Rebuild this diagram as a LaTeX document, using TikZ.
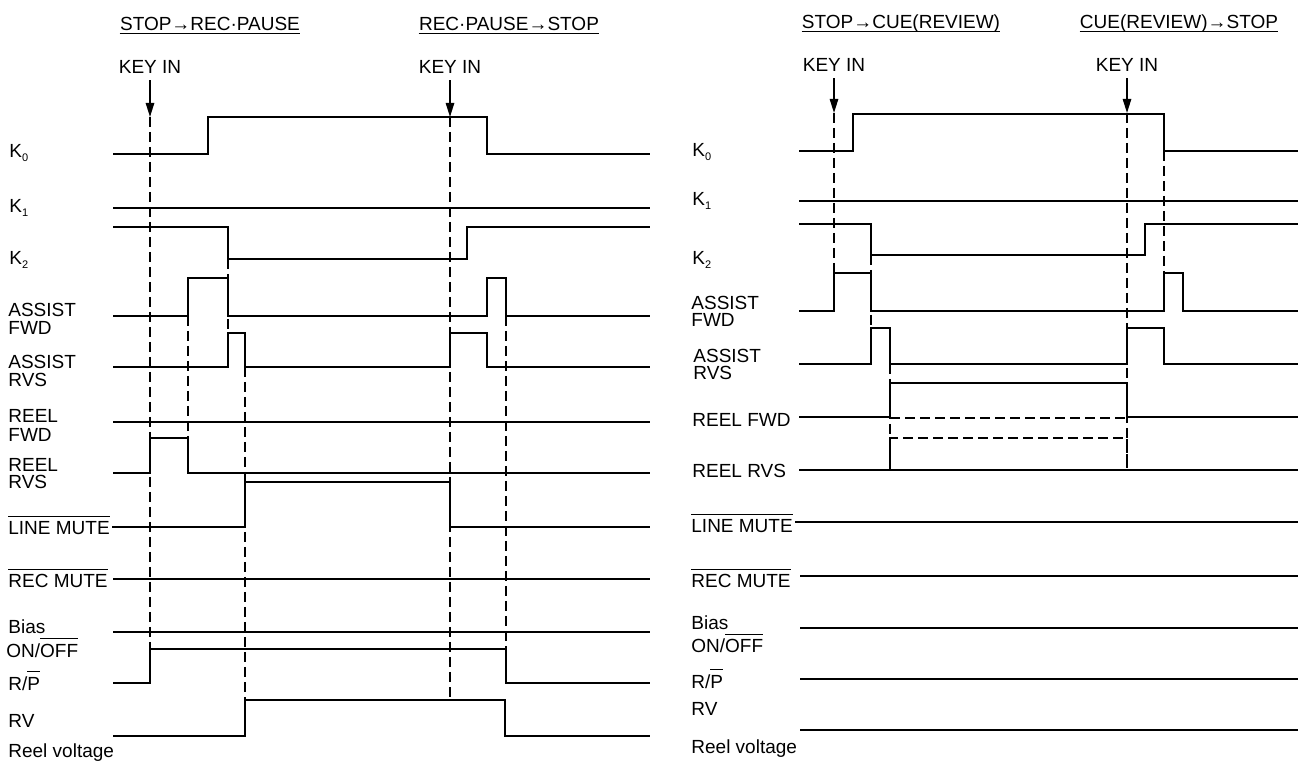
\documentclass[tikz,border=0pt]{standalone}
\usepackage{fontspec}
\setmainfont{Liberation Sans}
\usetikzlibrary{arrows.meta}

\newcommand{\ovl}[1]{$\overline{\hbox{\vrule width0pt height0.85em #1}}$}
\newcommand{\ksub}[1]{K\raisebox{-0.3ex}{\fontsize{5.5}{6}\selectfont #1}}

\tikzset{
  sig/.style={line width=1.3pt},
  guide/.style={line width=0.65pt, dash pattern=on 5pt off 2.5pt},
  lbl/.style={anchor=base west, inner sep=0pt, font=\fontsize{9.5}{11}\selectfont},
  ttl/.style={anchor=base, inner sep=0pt, font=\fontsize{9.5}{11}\selectfont},
  keyarr/.style={-{Triangle[length=7pt,width=4.2pt]}, line width=0.75pt}
}

\begin{document}
\begin{tikzpicture}[x=0.5pt, y=-0.5pt]
    \useasboundingbox (0,0) rectangle (1300,763);

    % Left panel: titles and key-in marks
    \node[ttl] (tl1) at (210,30.5) {STOP→REC·PAUSE};
    \draw[line width=0.6pt] ([yshift=-1.5pt]tl1.base west) -- ([yshift=-1.5pt]tl1.base east);
    \node[ttl] (tl2) at (509,30.5) {REC·PAUSE→STOP};
    \draw[line width=0.6pt] ([yshift=-1.5pt]tl2.base west) -- ([yshift=-1.5pt]tl2.base east);

    \node[ttl] (ki1) at (150,74) {KEY IN};
    \coordinate (ki1e) at (150,117);
    \draw[keyarr] ([yshift=-3pt]ki1.south) -- (ki1e);
    \node[ttl] (ki2) at (450,74) {KEY IN};
    \coordinate (ki2e) at (450,117);
    \draw[keyarr] ([yshift=-3pt]ki2.south) -- (ki2e);

    % Left panel: signal names
    \node[lbl] (lk0) at (9,158) {\ksub{0}};
    \node[lbl] (lk1) at (9,213) {\ksub{1}};
    \node[lbl] (lk2) at (9,265) {\ksub{2}};
    \node[lbl] (lasf) at (8,317) {ASSIST};
    \node[lbl] (lasfb) at (8,335) {FWD};
    \node[lbl] (lasr) at (8,369) {ASSIST};
    \node[lbl] (lasrb) at (8,387) {RVS};
    \node[lbl] (lrlf) at (8,423) {REEL};
    \node[lbl] (lrlfb) at (8,442) {FWD};
    \node[lbl] (lrlr) at (8,472) {REEL};
    \node[lbl] (lrlrb) at (8,489) {RVS};
    \node[lbl] (llm) at (8,535) {\ovl{LINE MUTE}};
    \node[lbl] (lrm) at (8,588) {\ovl{REC MUTE}};
    \node[lbl] (lbias) at (8,633) {Bias};
    \node[lbl] (lbiasb) at (6,657) {ON/\ovl{OFF}};
    \node[lbl] (lrp) at (8,690) {R/\ovl{P}};
    \node[lbl] (lrv) at (8,727) {RV};
    \node[lbl] (lrvb) at (8,757) {Reel voltage};

    % Left panel: waveforms
    \draw[sig] (113,154) -- (208,154) -- (208,117) -- (487,117) -- (487,154) -- (650,154);
    \draw[sig] (113,208) -- (650,208);
    \draw[sig] (113,227) -- (228,227) -- (228,259) -- (467,259) -- (467,227) -- (650,227);
    \draw[sig] (113,316) -- (188,316) -- (188,278) -- (228,278) -- (228,316) -- (487,316)
        -- (487,278) -- (506,278) -- (506,316) -- (650,316);
    \draw[sig] (113,367) -- (228,367) -- (228,333) -- (245,333) -- (245,367) -- (450,367)
        -- (450,333) -- (487,333) -- (487,367) -- (650,367);
    \draw[sig] (113,422) -- (650,422);
    \draw[sig] (113,473) -- (150,473) -- (150,438) -- (188,438) -- (188,473) -- (650,473);
    \draw[sig] (112,527) -- (245,527) -- (245,482) -- (450,482) -- (450,527) -- (650,527);
    \draw[sig] (113,579) -- (650,579);
    \draw[sig] (113,632) -- (650,632);
    \draw[sig] (113,683) -- (150,683) -- (150,649) -- (506,649) -- (506,683) -- (650,683);
    \draw[sig] (113,736) -- (245,736) -- (245,700) -- (505,700) -- (505,736) -- (650,736);

    % Left panel: timing guides
    \draw[guide] (ki1e) -- (150,649);
    \draw[guide] (188,316) -- (188,438);
    \draw[guide] (228,259) -- (228,333);
    \draw[guide] (245,367) -- (245,700);
    \draw[guide] (ki2e) -- (450,700);
    \draw[guide] (506,316) -- (506,649);

    % Right panel: titles and key-in marks
    \node[ttl] (tr1) at (901,28.5) {STOP→CUE(REVIEW)};
    \draw[line width=0.6pt] ([yshift=-1.7pt]tr1.base west) -- ([yshift=-1.7pt]tr1.base east);
    \node[ttl] (tr2) at (1179,28.5) {CUE(REVIEW)→STOP};
    \draw[line width=0.6pt] ([yshift=-1.7pt]tr2.base west) -- ([yshift=-1.7pt]tr2.base east);

    \node[ttl] (ki3) at (834,72) {KEY IN};
    \coordinate (ki3e) at (834,113);
    \draw[keyarr] ([yshift=-3pt]ki3.south) -- (ki3e);
    \node[ttl] (ki4) at (1127,72) {KEY IN};
    \coordinate (ki4e) at (1127,113);
    \draw[keyarr] ([yshift=-3pt]ki4.south) -- (ki4e);

    % Right panel: signal names
    \node[lbl] (rk0) at (692,157) {\ksub{0}};
    \node[lbl] (rk1) at (692,206) {\ksub{1}};
    \node[lbl] (rk2) at (692,265) {\ksub{2}};
    \node[lbl] (rasf) at (691,310) {ASSIST};
    \node[lbl] (rasfb) at (691,327) {FWD};
    \node[lbl] (rasr) at (693,363) {ASSIST};
    \node[lbl] (rasrb) at (693,380) {RVS};
    \node[lbl] (rrlf) at (692,427) {REEL FWD};
    \node[lbl] (rrlr) at (692,478) {REEL RVS};
    \node[lbl] (rlm) at (691,533) {\ovl{LINE MUTE}};
    \node[lbl] (rrm) at (691,588) {\ovl{REC MUTE}};
    \node[lbl] (rbias) at (691,630) {Bias};
    \node[lbl] (rbiasb) at (691,653) {ON/\ovl{OFF}};
    \node[lbl] (rrp) at (691,688) {R/\ovl{P}};
    \node[lbl] (rrv) at (691,715) {RV};
    \node[lbl] (rrvb) at (691,753) {Reel voltage};

    % Right panel: waveforms
    \draw[sig] (799,151) -- (853,151) -- (853,114) -- (1164,114) -- (1164,151) -- (1298,151);
    \draw[sig] (799,201) -- (1298,201);
    \draw[sig] (799,224) -- (871,224) -- (871,255) -- (1145,255) -- (1145,224) -- (1298,224);
    \draw[sig] (799,311) -- (834,311) -- (834,273) -- (871,273) -- (871,311) -- (1164,311)
        -- (1164,273) -- (1183,273) -- (1183,311) -- (1298,311);
    \draw[sig] (799,364) -- (871,364) -- (871,328) -- (890,328) -- (890,364) -- (1127,364)
        -- (1127,328) -- (1164,328) -- (1164,364) -- (1298,364);
    \draw[sig] (799,417) -- (890,417) -- (890,383) -- (1127,383) -- (1127,417) -- (1298,417);
    \draw[sig] (799,470) -- (1298,470);
    \draw[sig] (795,522) -- (1298,522);
    \draw[sig] (800,576) -- (1298,576);
    \draw[sig] (800,628) -- (1298,628);
    \draw[sig] (800,679) -- (1298,679);
    \draw[sig] (800,730) -- (1298,730);

    % Right panel: reel levels shown dashed while in cue/review
    \draw[guide] (890,418) -- (1127,418);
    \draw[guide] (890,470) -- (890,438) -- (1127,438) -- (1127,470);

    % Right panel: timing guides
    \draw[guide] (ki3e) -- (834,273);
    \draw[guide] (871,255) -- (871,328);
    \draw[guide] (890,364) -- (890,470);
    \draw[guide] (ki4e) -- (1127,470);
    \draw[guide] (1164,151) -- (1164,273);
\end{tikzpicture}
\end{document}
